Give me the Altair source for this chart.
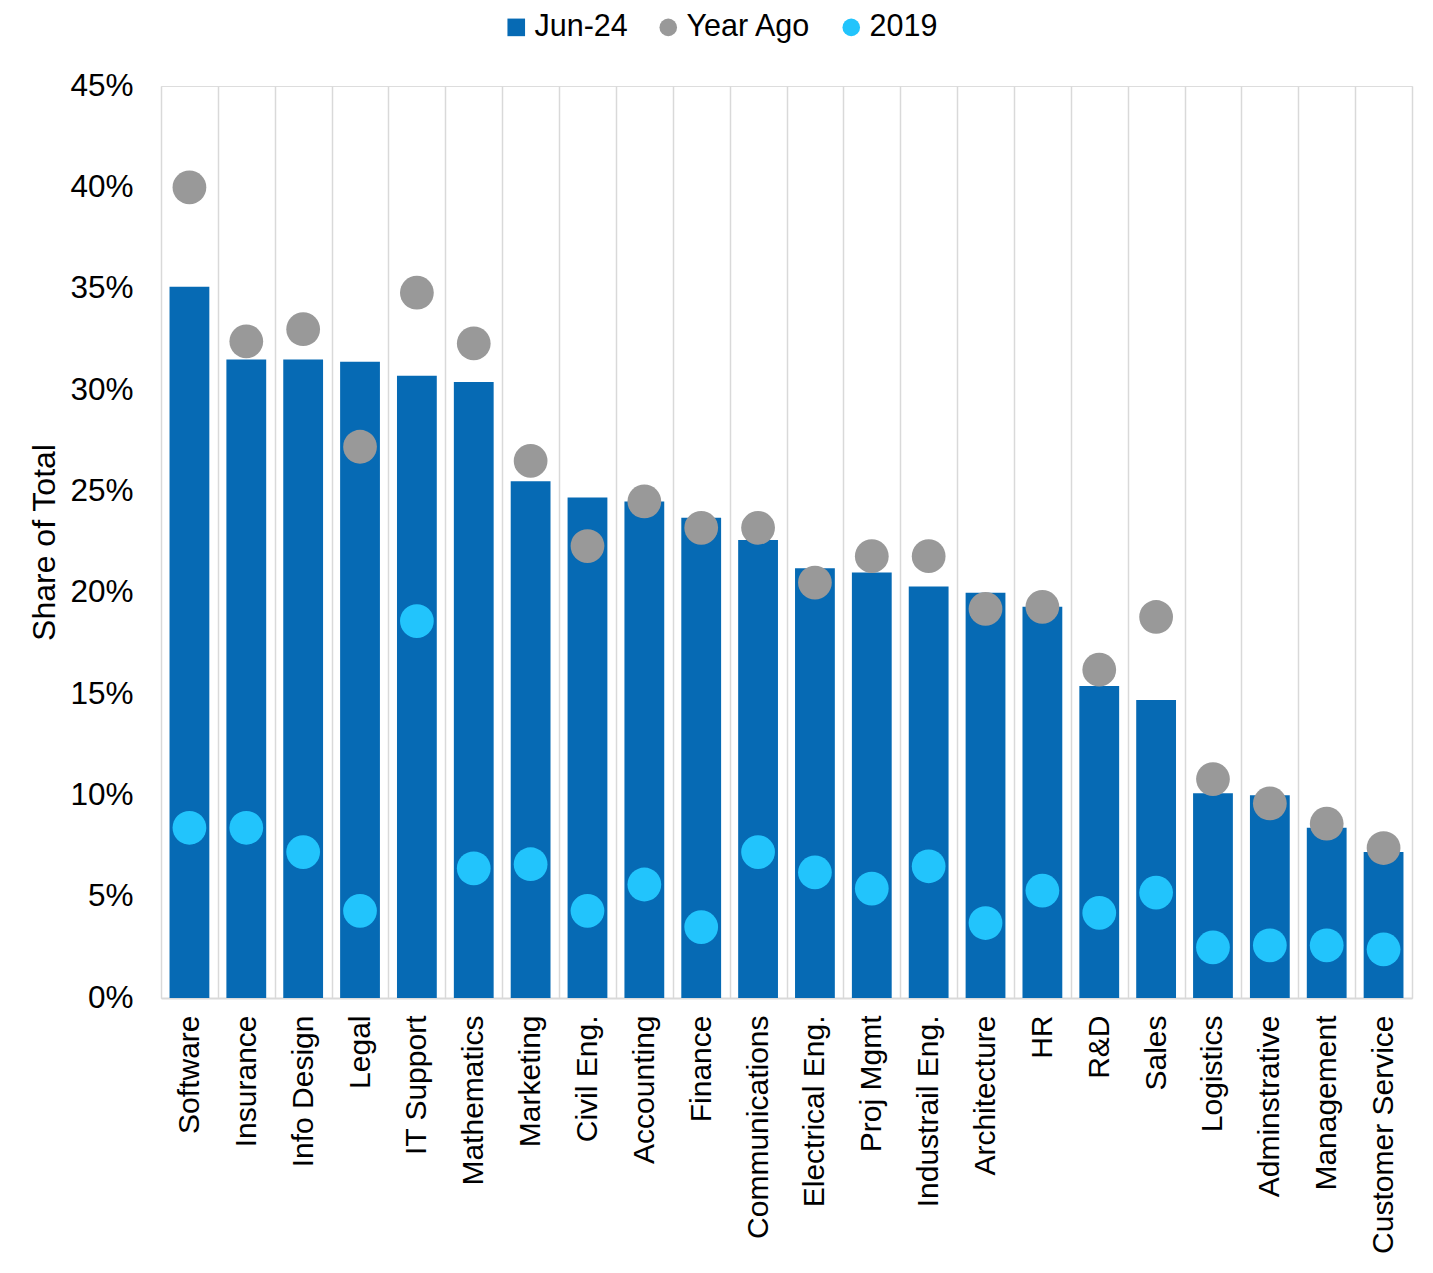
import altair as alt
import pandas as pd

categories = ["Software", "Insurance", "Info Design", "Legal", "IT Support", "Mathematics",
              "Marketing", "Civil Eng.", "Accounting", "Finance", "Communications",
              "Electrical Eng.", "Proj Mgmt", "Industrail Eng.", "Architecture", "HR", "R&D",
              "Sales", "Logistics", "Adminstrative", "Management", "Customer Service"]
jun24 = [35.1, 31.5, 31.5, 31.4, 30.7, 30.4, 25.5, 24.7, 24.5, 23.7, 22.6,
         21.2, 21.0, 20.3, 20.0, 19.3, 15.4, 14.7, 10.1, 10.0, 8.4, 7.2]
year_ago = [40.0, 32.4, 33.0, 27.2, 34.8, 32.3, 26.5, 22.3, 24.5, 23.2, 23.2,
            20.5, 21.8, 21.8, 19.2, 19.3, 16.2, 18.8, 10.8, 9.6, 8.6, 7.4]
y2019 = [8.4, 8.4, 7.2, 4.3, 18.6, 6.4, 6.6, 4.3, 5.6, 3.5, 7.2,
         6.2, 5.4, 6.5, 3.7, 5.3, 4.2, 5.2, 2.5, 2.6, 2.6, 2.4]

series = ["Jun-24", "Year Ago", "2019"]
colors = ["#066AB4", "#999999", "#22C4FC"]
shapes = ["square", "circle", "circle"]
y_ticks = [0, 0.05, 0.10, 0.15, 0.20, 0.25, 0.30, 0.35, 0.40, 0.45]

FONT = "Liberation Sans"

bars_df = pd.DataFrame({"cat": categories, "value": [v / 100 for v in jun24], "series": "Jun-24"})
pts_df = pd.concat([
    pd.DataFrame({"cat": categories, "value": [v / 100 for v in year_ago], "series": "Year Ago"}),
    pd.DataFrame({"cat": categories, "value": [v / 100 for v in y2019], "series": "2019"}),
], ignore_index=True)

x_enc = alt.X("cat:N", sort=categories,
              scale=alt.Scale(paddingInner=0, paddingOuter=0),
              axis=alt.Axis(title=None, labelAngle=-90, labelFontSize=30, labelColor="#000000",
                            labelPadding=17, labelLimit=0, ticks=False, grid=True,
                            tickBand="extent", gridColor="#D9D9D9", gridWidth=1.5,
                            domainColor="#D9D9D9", domainWidth=2, labelFont=FONT))
y_enc = alt.Y("value:Q",
              scale=alt.Scale(domain=[0, 0.45], nice=False),
              axis=alt.Axis(title="Share of Total", format=".0%", values=y_ticks,
                            labelFontSize=31.5, labelColor="#000000", labelPadding=28,
                            ticks=False, grid=False, domain=False,
                            titleFontSize=32, titleFontWeight="normal", titleColor="#000000",
                            titlePadding=8, labelFont=FONT, titleFont=FONT))

color_scale = alt.Scale(domain=series, range=colors)
shape_scale = alt.Scale(domain=series, range=shapes)
legend = alt.Legend(title=None, orient="none", direction="horizontal",
                    legendX=340, legendY=-74, labelFontSize=30.5, labelFont=FONT,
                    labelColor="#000000", symbolSize=310, labelOffset=3,
                    columnPadding=25, padding=0, symbolStrokeWidth=0, symbolOpacity=1,
                    labelLimit=0)

bars = alt.Chart(bars_df).mark_bar(width=alt.RelativeBandSize(0.7)).encode(
    x=x_enc,
    y=y_enc,
    color=alt.Color("series:N", scale=color_scale, legend=legend),
)

points = alt.Chart(pts_df).mark_point(filled=True, size=1140, opacity=1).encode(
    x=alt.X("cat:N", sort=categories),
    y=alt.Y("value:Q"),
    color=alt.Color("series:N", scale=color_scale, legend=legend),
    shape=alt.Shape("series:N", scale=shape_scale, legend=legend),
)

chart = alt.layer(bars, points).properties(
    width=1251,
    height=912,
    autosize=alt.AutoSizeParams(type="none"),
    padding={"left": 153, "top": 78, "right": 8, "bottom": 262},
).configure_view(stroke=None).configure(font=FONT)

chart.save("out.html", embed_options={"renderer": "svg", "actions": False})
